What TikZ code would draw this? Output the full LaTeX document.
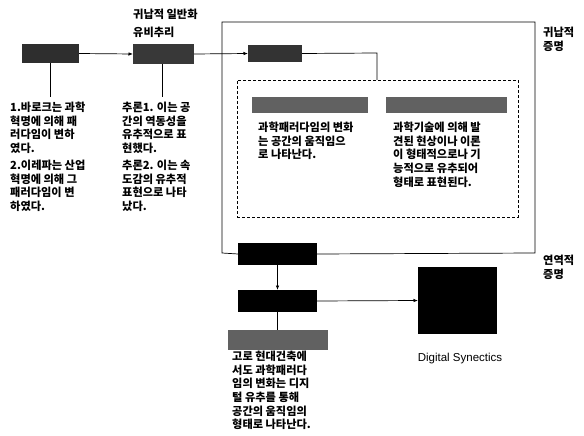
\documentclass[tikz,border=0pt]{standalone}
\usepackage{fontspec}
\setmainfont{Liberation Sans}
\newfontfamily\kr{Noto Sans CJK KR}
\usetikzlibrary{arrows.meta}
\begin{document}
\begin{tikzpicture}[x=1pt,y=-1pt,
  blk/.style={draw=none,anchor=north west,inner sep=0pt,outer sep=0pt},
  kt/.style={anchor=north west,inner sep=0pt,align=left,font=\kr\bfseries\fontsize{11.2}{13.6}\selectfont},
  ln/.style={line width=0.7pt,black},
  arr/.style={ln,-{Latex[length=4.5pt,width=3.5pt]}}]
\useasboundingbox (0,0) rectangle (584,436);
% boxes
\node[blk,fill=black!82,minimum width=57pt,minimum height=19pt] (b1) at (22,44) {};
\node[blk,fill=black!78,minimum width=61pt,minimum height=20pt] (b2) at (133,44) {};
\node[blk,fill=black!80,minimum width=54pt,minimum height=17pt] (b3) at (248,45) {};
\node[blk,fill=black!62,minimum width=116pt,minimum height=16pt] (bar1) at (252,97) {};
\node[blk,fill=black!62,minimum width=121pt,minimum height=16pt] (bar2) at (386,97) {};
\node[blk,fill=black,minimum width=79pt,minimum height=22pt] (b4) at (238,243) {};
\node[blk,fill=black,minimum width=79pt,minimum height=22pt] (b5) at (238,290) {};
\node[blk,fill=black!62,minimum width=100pt,minimum height=20pt] (bar3) at (228,330) {};
\node[blk,fill=black,minimum width=79pt,minimum height=67pt] (big) at (418,267) {};
% dashed region
\node[blk,draw=black,densely dashed,line width=0.7pt,minimum width=281pt,minimum height=137pt] (dash) at (237,80) {};
% coordinates
\coordinate (fTL) at (222,22);
\coordinate (fTR) at (535,22);
\coordinate (fBR) at (535,253);
\coordinate (fBL) at (222,253);
\coordinate (c1) at (50,97);
\coordinate (c2) at (162,97);
\coordinate (c3) at (377,53);
% frame
\draw[ln] (b4.east) -- (fBR) -- (fTR) -- (fTL) -- (fBL) -- (b4.west);
% connectors
\draw[arr] (b1.east) -- (b2.west);
\draw[arr] (b2.east) -- (b3.west);
\draw[ln] (b3.east) -- (c3) -- (c3 |- dash.north);
\draw[ln] (b1.south -| c1) -- (c1);
\draw[ln] (b2.south -| c2) -- (c2);
\draw[arr] (b4.south) -- (b5.north);
\draw[ln] (b5.south) -- (b5.south |- bar3.north);
\draw[arr] (b5.east) -- (big.west);
% texts
\node[kt] (l1) at (133,9) {귀납적 일반화};
\node[kt] (l2) at (133,27) {유비추리};
\node[kt] (t1a) at (10,102) {1.바로크는 과학\\혁명에 의해 패\\러다임이 변하\\였다.};
\node[kt] (t1b) at (10,160) {2.이레파는 산업\\혁명에 의해 그\\패러다임이 변\\하였다.};
\node[kt] (t2a) at (122,102) {추론1. 이는 공\\간의 역동성을\\유추적으로 표\\현했다.};
\node[kt] (t2b) at (122,160) {추론2. 이는 속\\도감의 유추적\\표현으로 나타\\났다.};
\node[kt] (t3) at (258,122) {과학패러다임의 변화\\는 공간의 움직임으\\로 나타난다.};
\node[kt] (t4) at (393,122) {과학기술에 의해 발\\견된 현상이나 이론\\이 형태적으로나 기\\능적으로 유추되어\\형태로 표현된다.};
\node[kt] (t5) at (232,351) {고로 현대건축에\\서도 과학패러다\\임의 변화는 디지\\털 유추를 통해\\공간의 움직임의\\형태로 나타난다.};
\node[kt] (r1) at (543,27) {귀납적\\증명};
\node[kt] (r2) at (543,255) {연역적\\증명};
\node[font=\fontsize{11.5}{13}\selectfont,inner sep=0pt] (ds) at (460,359) {Digital Synectics};
\end{tikzpicture}
\end{document}
